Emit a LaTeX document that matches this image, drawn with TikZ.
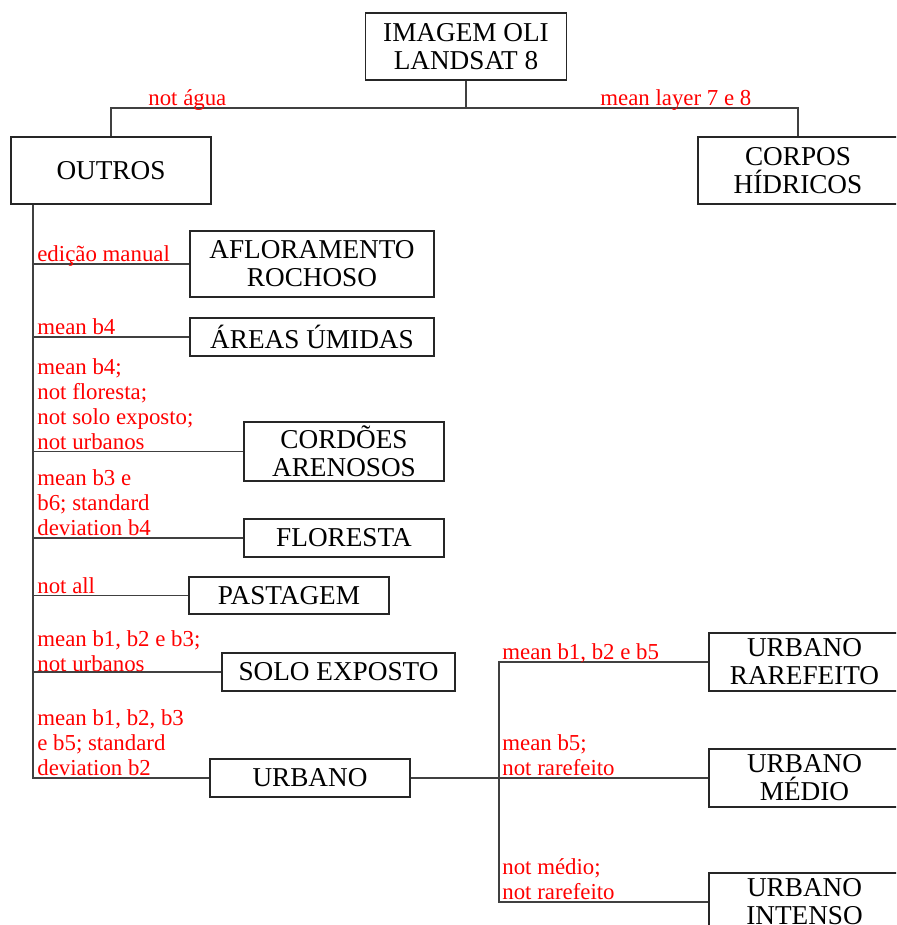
\documentclass[tikz,border=0pt]{standalone}
\usepackage{fontspec}
\setmainfont{Liberation Serif}
\usepackage{xcolor}
\usepackage{tikz}

\begin{document}
\begin{tikzpicture}[
    x=0.02cm, y=-0.02cm,
    cls/.style={rectangle, draw=black!85, line width=0.75pt, fill=white,
                align=center, inner sep=2pt,
                font=\fontsize{15.5}{16}\selectfont},
    rule/.style={anchor=south west, inner sep=0pt, text depth=0pt,
                 align=left, text=red,
                 font=\fontsize{13}{14.2}\selectfont},
    link/.style={draw=black!75, line width=0.6pt},
]
\useasboundingbox (0,0) rectangle (896,925);
\clip (0,0) rectangle (896,925);

% Top level
\node[cls, minimum width=4.02cm, minimum height=1.34cm] (img) at (466,46.5)
    {IMAGEM OLI\\LANDSAT 8};
\node[cls, minimum width=4.0cm, minimum height=1.34cm] (outros) at (111,170.5)
    {OUTROS};
\node[cls, minimum width=4.0cm, minimum height=1.34cm] (corpos) at (798,170.5)
    {CORPOS\\HÍDRICOS};
\coordinate (j0) at (466,108);
\draw[link] (img.south) -- (j0);
\draw[link] (outros.north) |- (j0) -| (corpos.north);
\node[rule] (l_agua) at (148,106) {not água};
\node[rule] (l_corpos) at (600,106) {mean layer 7 e 8};

% Classes under OUTROS
\node[cls, minimum width=4.88cm, minimum height=1.32cm] (aflor) at (312,264)
    {AFLORAMENTO\\ROCHOSO};
\node[cls, minimum width=4.88cm, minimum height=0.76cm] (areas) at (312,337)
    {ÁREAS ÚMIDAS};
\node[cls, minimum width=4.0cm, minimum height=1.18cm] (cordoes) at (344,451.5)
    {CORDÕES\\ARENOSOS};
\node[cls, minimum width=4.0cm, minimum height=0.76cm] (floresta) at (344,538)
    {FLORESTA};
\node[cls, minimum width=4.0cm, minimum height=0.74cm] (pastagem) at (289,595.5)
    {PASTAGEM};
\node[cls, minimum width=4.66cm, minimum height=0.76cm] (solo) at (338.5,672)
    {SOLO EXPOSTO};
\node[cls, minimum width=4.0cm, minimum height=0.76cm] (urbano) at (310,778)
    {URBANO};

% Trunk and branches
\coordinate (tr) at (33,0);
\draw[link] (tr |- outros.south) |- (urbano.west);
\foreach \b in {aflor, areas, cordoes, floresta, pastagem, solo}
    \draw[link] (tr |- \b.west) -- (\b.west);

\node[rule] (l_aflor) at (37,262) {edição manual};
\node[rule] (l_areas) at (37,335) {mean b4};
\node[rule] (l_cord) at (37,450)
    {mean b4;\\not floresta;\\not solo exposto;\\not urbanos};
\node[rule] (l_flor) at (37,536) {mean b3 e\\b6; standard\\deviation b4};
\node[rule] (l_past) at (37,594) {not all};
\node[rule] (l_solo) at (37,672) {mean b1, b2 e b3;\\not urbanos};
\node[rule] (l_urb) at (37,776) {mean b1, b2, b3\\e b5; standard\\deviation b2};

% Urban classes
\node[cls, minimum width=3.82cm, minimum height=1.16cm] (rarefeito) at (804.5,662)
    {URBANO\\RAREFEITO};
\node[cls, minimum width=3.82cm, minimum height=1.16cm] (medio) at (804.5,778)
    {URBANO\\MÉDIO};
\node[cls, minimum width=3.82cm, minimum height=1.16cm] (intenso) at (804.5,902)
    {URBANO\\INTENSO};
\coordinate (sb) at (499,0);
\draw[link] (urbano.east) -- (medio.west);
\draw[link] (rarefeito.west) -- (sb |- rarefeito.west) -- (sb |- intenso.west)
    -- (intenso.west);

\node[rule] (l_rare) at (502,660) {mean b1, b2 e b5};
\node[rule] (l_med) at (502,776) {mean b5;\\not rarefeito};
\node[rule] (l_int) at (502,900) {not médio;\\not rarefeito};

\end{tikzpicture}
\end{document}
